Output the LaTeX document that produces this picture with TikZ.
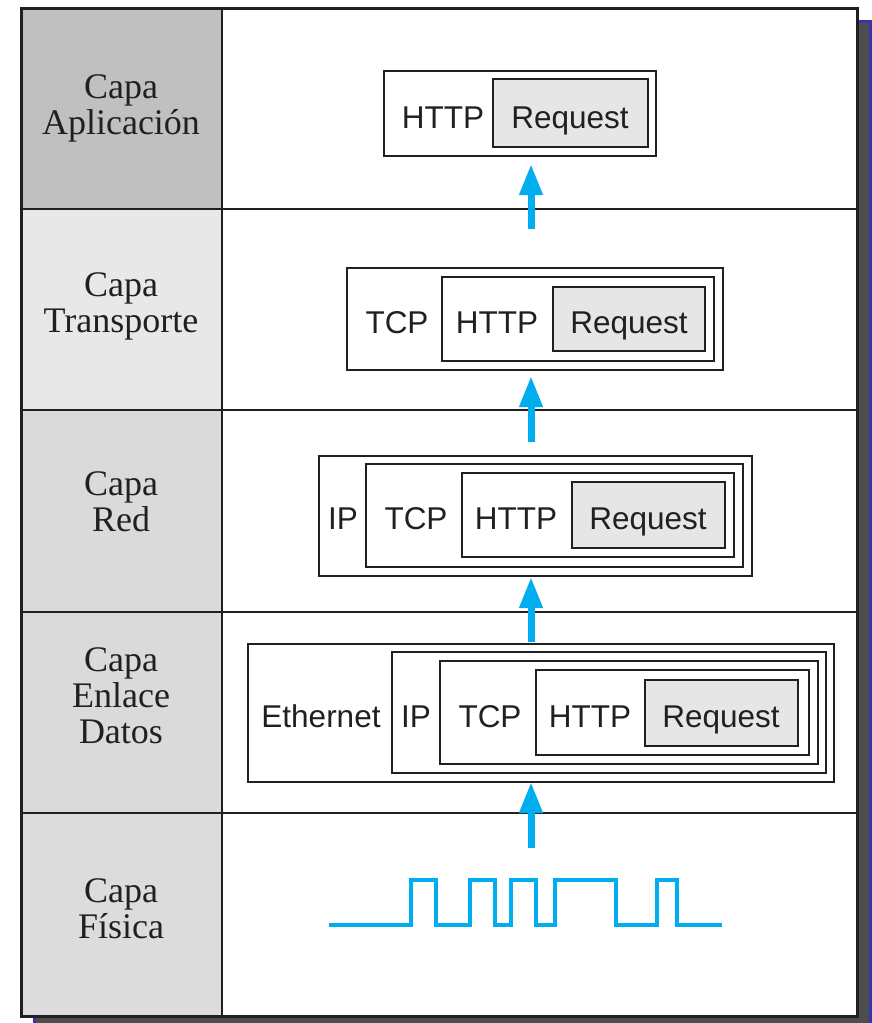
\documentclass[tikz,border=0pt]{standalone}
\usepackage{fontspec}
\setmainfont{Liberation Serif}
\newfontfamily\boxfont{Liberation Sans}
\usetikzlibrary{arrows.meta,fit}
\definecolor{ink}{HTML}{231F20}
\definecolor{cyanA}{HTML}{00AEEF}
\definecolor{shadowg}{HTML}{4D4D4D}
\definecolor{shadowb}{HTML}{3535A8}
\definecolor{reqfill}{HTML}{E6E6E6}
\definecolor{rowA}{HTML}{C0C0C0}
\definecolor{rowB}{HTML}{E8E8E8}
\definecolor{rowC}{HTML}{DADADA}
\definecolor{rowD}{HTML}{DCDCDC}
\tikzset{
  pbox/.style={draw=ink, line width=1.8pt, inner sep=0pt, fill=white},
  reqbox/.style={pbox, fill=reqfill},
  btxt/.style={font=\boxfont\fontsize{31.5}{31.5}\selectfont, inner sep=0pt, text=ink, anchor=base},
  ltxt/.style={font=\fontsize{36}{36}\selectfont, align=center, inner sep=0pt, text=ink},
  upArrow/.style={draw=cyanA, line width=7pt, -{Triangle[length=31pt,width=22pt]}},
  sigline/.style={draw=cyanA, line width=4pt},
  sepline/.style={draw=ink, line width=2.2pt}
}
\begin{document}
\begin{tikzpicture}[x=1pt,y=-1pt]
\useasboundingbox (0,0) rectangle (872,1023);
% shadow
\fill[shadowb] (33,20) rectangle (872,1026);
\fill[shadowg] (36,23) rectangle (869,1026);
% frame
\fill[white] (21,8) rectangle (857,1016);
\fill[rowA] (21,8) rectangle (222,209);
\fill[rowB] (21,209) rectangle (222,410);
\fill[rowC] (21,410) rectangle (222,612);
\fill[rowC] (21,612) rectangle (222,813);
\fill[rowD] (21,813) rectangle (222,1016);
\draw[sepline] (21,209) -- (857,209);
\draw[sepline] (21,410) -- (857,410);
\draw[sepline] (21,612) -- (857,612);
\draw[sepline] (21,813) -- (857,813);
\draw[sepline] (222,8) -- (222,1016);
\draw[draw=ink, line width=3pt] (21,8) rectangle (857,1016);

% layer labels
\node[ltxt] (l1) at (121,108) {Capa\\Aplicación};
\node[ltxt] (l2) at (121,306) {Capa\\Transporte};
\node[ltxt] (l3) at (121,502) {Capa\\Red};
\node[ltxt] (l4) at (121,696) {Capa\\Enlace\\Datos};
\node[ltxt] (l5) at (121,909) {Capa\\Física};

% row 1
\node[pbox, fit={(384,71)(656,156)}] (r1o) {};
\node[reqbox, fit={(493,79)(648,147)}] (r1q) {};
\node[btxt] (t1h) at (443,128) {HTTP};
\node[btxt] (t1q) at (570,128) {Request};

% row 2
\node[pbox, fit={(347,268)(723,370)}] (r2o) {};
\node[pbox, fit={(442,277)(714,361)}] (r2h) {};
\node[reqbox, fit={(553,287)(705,351)}] (r2q) {};
\node[btxt] (t2t) at (397,333) {TCP};
\node[btxt] (t2h) at (497,333) {HTTP};
\node[btxt] (t2q) at (629,333) {Request};

% row 3
\node[pbox, fit={(319,456)(752,576)}] (r3o) {};
\node[pbox, fit={(366,464)(743,567)}] (r3t) {};
\node[pbox, fit={(462,473)(734,557)}] (r3h) {};
\node[reqbox, fit={(572,482)(725,548)}] (r3q) {};
\node[btxt] (t3i) at (343,529) {IP};
\node[btxt] (t3t) at (416,529) {TCP};
\node[btxt] (t3h) at (516,529) {HTTP};
\node[btxt] (t3q) at (648,529) {Request};

% row 4
\node[pbox, fit={(248,644)(834,782)}] (r4o) {};
\node[pbox, fit={(392,652)(826,773)}] (r4i) {};
\node[pbox, fit={(440,661)(818,764)}] (r4t) {};
\node[pbox, fit={(536,670)(809,755)}] (r4h) {};
\node[reqbox, fit={(645,680)(798,746)}] (r4q) {};
\node[btxt] (t4e) at (321,727) {Ethernet};
\node[btxt] (t4i) at (416,727) {IP};
\node[btxt] (t4t) at (490,727) {TCP};
\node[btxt] (t4h) at (590,727) {HTTP};
\node[btxt] (t4q) at (721,727) {Request};

% arrows
\coordinate (a1s) at (531,229);
\coordinate (a1t) at (531,164);
\coordinate (a2s) at (531,442);
\coordinate (a2t) at (531,376);
\coordinate (a3s) at (531,642);
\coordinate (a3t) at (531,577);
\coordinate (a4s) at (531,848);
\coordinate (a4t) at (531,782);
\draw[upArrow] (a1s) -- (a1t);
\draw[upArrow] (a2s) -- (a2t);
\draw[upArrow] (a3s) -- (a3t);
\draw[upArrow] (a4s) -- (a4t);

% signal
\draw[sigline] (329,925) -- (411,925) -- (411,880) -- (436,880) -- (436,925)
  -- (470,925) -- (470,880) -- (495,880) -- (495,925) -- (511,925) -- (511,880)
  -- (536,880) -- (536,925) -- (555,925) -- (555,880) -- (616,880) -- (616,925)
  -- (657,925) -- (657,880) -- (677,880) -- (677,925) -- (722,925);
\end{tikzpicture}
\end{document}
